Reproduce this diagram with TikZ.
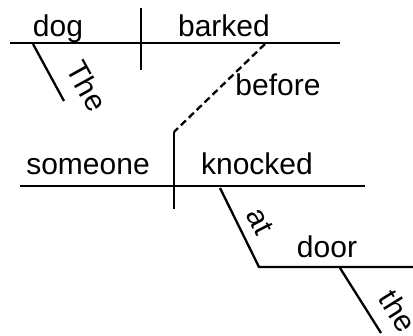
\documentclass[tikz,border=0pt]{standalone}
\usepackage{fontspec}
\setmainfont{Liberation Sans}
\usetikzlibrary{positioning}

\begin{document}
\begin{tikzpicture}[
  x=1pt, y=-1pt,
  rule/.style={line width=2.3pt},
  link/.style={rule, dash pattern=on 7pt off 4pt},
  word/.style={font=\fontsize{30}{36}\selectfont, inner sep=0pt, anchor=base},
  tilt/.style={font=\fontsize{30}{36}\selectfont, inner sep=0pt, anchor=center}
]
\useasboundingbox (0,0) rectangle (413,336);
% main clause
\coordinate (mainL) at (10,43);
\coordinate (mainR) at (340,43);
\coordinate (mainUp) at (141,8);
\coordinate (mainDn) at (141,70);
\coordinate (theTop) at (33,44);
\coordinate (theEnd) at (64,101);
\coordinate (befTop) at (265,44);
\node[word] (dog) at (58,37) {dog};
\node[word] (barked) at (224,37) {barked};
\node[tilt, rotate=-61] (The) at (87,86) {The};
\node[word] (before) at (278,96) {before};
% subordinate clause
\coordinate (subL) at (20,186);
\coordinate (subR) at (365,186);
\coordinate (subUp) at (174,132);
\coordinate (subDn) at (174,209);
\coordinate (atTop) at (220,188);
\coordinate (atEnd) at (259,267);
\coordinate (doorR) at (413,267);
\coordinate (theTop2) at (340,268);
\coordinate (theEnd2) at (381,333);
\node[word] (someone) at (88,175) {someone};
\node[word] (knocked) at (257,175) {knocked};
\node[tilt, rotate=-63] (at) at (260,221) {at};
\node[word] (door) at (327,258) {door};
\node[tilt, rotate=-58] (the) at (398,311) {the};
\draw[rule] (mainL) -- (mainR);
\draw[rule] (mainUp) -- (mainDn);
\draw[rule] (theTop) -- (theEnd);
\draw[link] (befTop) -- (subUp);
\draw[rule] (subL) -- (subR);
\draw[rule] (subUp) -- (subDn);
\draw[rule] (atTop) -- (atEnd) -- (doorR);
\draw[rule] (theTop2) -- (theEnd2);
\end{tikzpicture}
\end{document}
